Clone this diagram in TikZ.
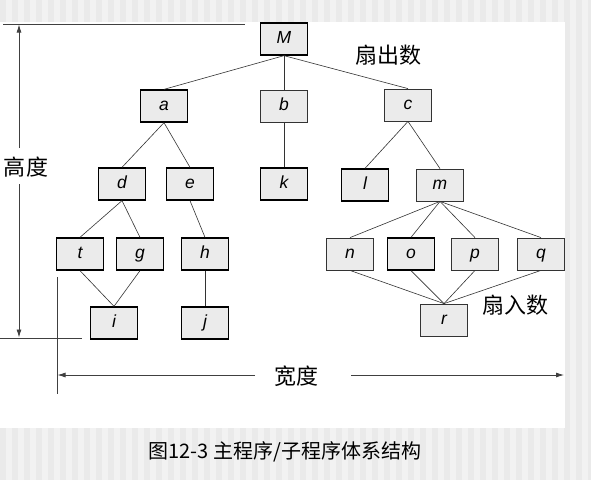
\documentclass[tikz,border=0pt]{standalone}
\usepackage{fontspec}
\setmainfont{Liberation Sans}
\newfontfamily\cjk{Noto Sans CJK SC}
\usetikzlibrary{arrows.meta}
\definecolor{boxgray}{HTML}{EBEBEB}
\definecolor{bggray}{HTML}{F2F2F2}
\definecolor{bgstripe}{HTML}{EAEAEA}
\begin{document}
\begin{tikzpicture}[x=1pt,y=-1pt,
  box/.style={draw=black!80, fill=boxgray, minimum width=47pt, minimum height=32pt, inner sep=0pt,
    text height=12pt, text depth=3.5pt,
    font=\fontsize{17.5}{17.5}\selectfont\itshape, line width=0.8pt},
  thickbox/.style={box, draw=black, line width=1.3pt},
  link/.style={draw=black!80, line width=0.6pt},
  dim/.style={draw=black!75, line width=0.8pt},
  arr/.style={dim, -{Latex[length=8pt,width=5pt]}},
  lab/.style={font=\cjk\fontsize{22}{22}\selectfont, inner sep=0pt}]
\useasboundingbox (0,0) rectangle (591,480);
% background
\fill[bggray] (0,0) rectangle (591,480);
\foreach \x in {0,12,...,588} \fill[bgstripe] (\x,0) rectangle ++(6,480);
\fill[white] (0,22) rectangle (565,428);
% nodes
\node[thickbox] (M) at (284,39) {M};
\node[thickbox] (a) at (164,106) {a};
\node[box] (b) at (284,106) {b};
\node[box] (c) at (408,105) {c};
\node[thickbox] (d) at (122,184) {d};
\node[thickbox] (e) at (190,184) {e};
\node[thickbox] (k) at (284,184) {k};
\node[thickbox] (l) at (365,185) {l};
\node[box] (m) at (440,185) {m};
\node[thickbox] (t) at (80,254) {t};
\node[thickbox] (g) at (140,254) {g};
\node[thickbox] (h) at (205,254) {h};
\node[thickbox] (i) at (114,323) {i};
\node[thickbox] (j) at (205,323) {j};
\node[box] (n) at (350,254) {n};
\node[thickbox] (o) at (411,254) {o};
\node[box] (p) at (475,254) {p};
\node[box] (q) at (541,254) {q};
\node[box] (r) at (444,320) {r};
% links
\draw[link] (M.south) -- (a.north);
\draw[link] (M.south) -- (b.north);
\draw[link] (M.south) -- (c.north);
\draw[link] (a.south) -- (d.north);
\draw[link] (a.south) -- (e.north);
\draw[link] (b.south) -- (k.north);
\draw[link] (c.south) -- (l.north);
\draw[link] (c.south) -- (m.north);
\draw[link] (d.south) -- (t.north);
\draw[link] (d.south) -- (g.north);
\draw[link] (e.south) -- (h.north);
\draw[link] (t.south) -- (i.north);
\draw[link] (g.south) -- (i.north);
\draw[link] (h.south) -- (j.north);
\foreach \s in {n,o,p,q} {
  \draw[link] (m.south) -- (\s.north);
  \draw[link] (\s.south) -- (r.north);
}
% labels
\node[lab] (fo) at (388,55) {扇出数};
\node[lab] (fi) at (515,305) {扇入数};
\node[lab] (hd) at (26,167) {高度};
\node[lab] (wd) at (296,376) {宽度};
% height dimension
\coordinate (tl) at (3,24);
\coordinate (tr) at (245,24);
\draw[dim] (tl) -- (tr);
\coordinate (bl) at (0,338);
\coordinate (br) at (82,338);
\draw[dim] (bl) -- (br);
\coordinate (hu) at (19,148);
\coordinate (vtop) at (19,24.5);
\coordinate (hl) at (19,184);
\coordinate (vbot) at (19,337.5);
\draw[arr] (hu) -- (vtop);
\draw[arr] (hl) -- (vbot);
% width dimension
\coordinate (vt) at (57,277);
\coordinate (vb) at (57,394);
\draw[dim] (vt) -- (vb);
\coordinate (wl) at (57.5,375);
\coordinate (wla) at (255,375);
\coordinate (wra) at (351,375);
\coordinate (wr) at (564,375);
\draw[arr] (wla) -- (wl);
\draw[arr] (wra) -- (wr);
% caption
\node[font=\cjk\fontsize{20}{20}\selectfont, inner sep=0pt] (cap) at (285,452) {图12-3 主程序/子程序体系结构};
\end{tikzpicture}
\end{document}
